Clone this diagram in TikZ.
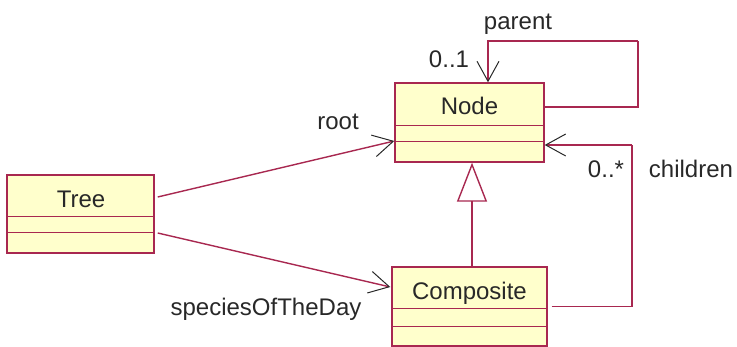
\documentclass[tikz,border=0pt]{standalone}
\usepackage{fontspec}
\setmainfont{Liberation Sans}
\usetikzlibrary{arrows.meta}
\definecolor{umlline}{RGB}{168,40,80}
\definecolor{umlfill}{RGB}{255,255,204}
\definecolor{umltext}{RGB}{40,40,40}
\tikzset{
  classbox/.style={draw=umlline, fill=umlfill, line width=1.4pt, inner sep=0pt},
  classname/.style={anchor=base, text=umltext, inner sep=0pt, font=\fontsize{24}{28}\selectfont},
  divider/.style={draw=umlline, line width=1.4pt},
  assoc/.style={draw=umlline, line width=1.4pt,
    -{Straight Barb[length=20pt, width=22pt, color=umltext, line width=1pt]}},
  loopline/.style={draw=umlline, line width=1.4pt},
  inherit/.style={draw=umlline, line width=1.4pt,
    -{Triangle[open, length=39pt, width=30pt, line width=1.4pt]}},
  rolelabel/.style={anchor=base, text=umltext, inner sep=0pt, font=\fontsize{24}{28}\selectfont}
}
\begin{document}
\begin{tikzpicture}[x=1pt, y=-1pt]
  \useasboundingbox (0,0) rectangle (737,347);

  % class boxes
  \node[classbox, minimum width=149pt, minimum height=79pt] (nodebox) at (469.5,122.5) {};
  \node[classbox, minimum width=147pt, minimum height=78pt] (tree) at (80.5,214) {};
  \node[classbox, minimum width=155pt, minimum height=79pt] (composite) at (469.5,306.5) {};

  % compartment dividers
  \draw[divider] ([yshift=-43pt]nodebox.north west) -- ([yshift=-43pt]nodebox.north east);
  \draw[divider] ([yshift=-59pt]nodebox.north west) -- ([yshift=-59pt]nodebox.north east);
  \draw[divider] ([yshift=-42pt]tree.north west) -- ([yshift=-42pt]tree.north east);
  \draw[divider] ([yshift=-58pt]tree.north west) -- ([yshift=-58pt]tree.north east);
  \draw[divider] ([yshift=-42pt]composite.north west) -- ([yshift=-42pt]composite.north east);
  \draw[divider] ([yshift=-60pt]composite.north west) -- ([yshift=-60pt]composite.north east);

  % class names
  \node[classname] (nodename) at (469.5,115) {Node};
  \node[classname] (treename) at (81,208) {Tree};
  \node[classname] (compname) at (469.5,300) {Composite};

  % associations from Tree
  \draw[assoc] ([xshift=3pt, yshift=17pt]tree.east) -- ([yshift=-18.5pt]nodebox.west);
  \draw[assoc] ([xshift=3pt, yshift=-19pt]tree.east) -- ([xshift=-1pt, yshift=19.5pt]composite.west);

  % parent self association
  \coordinate (parentcorner) at (638,41);
  \draw[loopline] ([yshift=15.5pt]nodebox.east) -| (parentcorner);
  \draw[assoc] (parentcorner) -| ([xshift=18.5pt]nodebox.north);

  % children association
  \coordinate (childcorner) at (632,145);
  \draw[loopline] ([xshift=4pt]composite.east) -| (childcorner);
  \draw[assoc] (childcorner) -- ([yshift=-22.5pt]nodebox.east);

  % generalization
  \draw[inherit] ([xshift=2.5pt]composite.north) -- ([xshift=2.5pt]nodebox.south);

  % role names and multiplicities
  \node[rolelabel] (lparent) at (518,30) {parent};
  \node[rolelabel] (lone) at (449,68) {0..1};
  \node[rolelabel] (lroot) at (338,130) {root};
  \node[rolelabel] (lspecies) at (266,316) {speciesOfTheDay};
  \node[rolelabel] (lmany) at (606,178) {0..*};
  \node[rolelabel] (lchildren) at (691,178) {children};
\end{tikzpicture}
\end{document}
